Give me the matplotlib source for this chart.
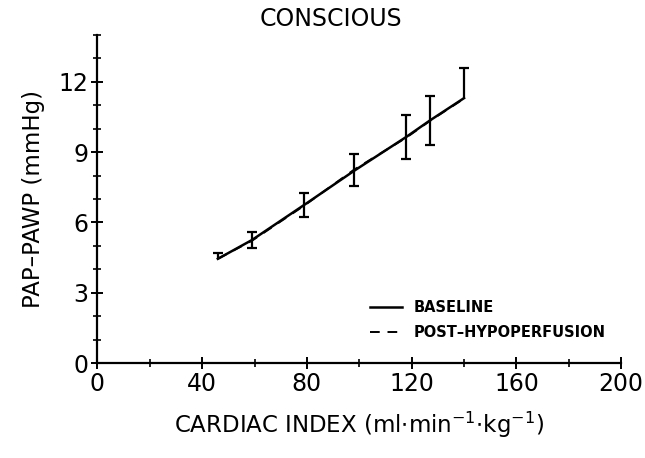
import matplotlib.pyplot as plt

# values
ci_base = [46, 59, 79, 98, 118, 127, 140]
pap_base = [4.45, 5.25, 6.75, 8.2, 9.65, 10.35, 11.3]
err_lo = [0.0, 0.35, 0.5, 0.65, 0.95, 1.05, 0.0]
err_hi = [0.25, 0.35, 0.5, 0.7, 0.95, 1.05, 1.3]

ci_post = [46, 59, 79, 98, 118, 127, 140]
pap_post = [4.45, 5.22, 6.72, 8.25, 9.62, 10.33, 11.28]

plt.rcParams['font.family'] = ['DejaVu Sans']

fig = plt.figure(figsize=(6.45, 4.58), dpi=100)
ax = fig.add_axes([0.151, 0.207, 0.812, 0.717])

ax.plot(ci_base, pap_base, color='black', lw=1.8, label='BASELINE')
ax.plot(ci_post, pap_post, color='black', lw=1.4, ls=(0, (5, 4)),
        label='POST\u2013HYPOPERFUSION')

# error bars: stems plus caps only where the bar extends
tops = [y + h for y, h in zip(pap_base, err_hi)]
bots = [y - l for y, l in zip(pap_base, err_lo)]
ax.vlines(ci_base, bots, tops, color='black', lw=1.6)
ax.plot(ci_base, tops, ls='none', marker='_', ms=7, mew=1.6, color='black')
bx = [x for x, l in zip(ci_base, err_lo) if l > 0]
by = [b for b, l in zip(bots, err_lo) if l > 0]
ax.plot(bx, by, ls='none', marker='_', ms=7, mew=1.6, color='black')

ax.set_xlim(0, 200)
ax.set_ylim(0, 14)
ax.set_xticks([0, 40, 80, 120, 160, 200])
ax.set_xticks(range(0, 201, 20), minor=True)
ax.set_yticks([0, 3, 6, 9, 12])
ax.set_yticks(range(0, 15), minor=True)

for s in ['top', 'right']:
    ax.spines[s].set_visible(False)
for s in ['left', 'bottom']:
    ax.spines[s].set_linewidth(1.6)

ax.tick_params(which='major', direction='inout', length=9, width=1.4,
               labelsize=17, pad=2)
ax.tick_params(which='minor', direction='inout', length=6, width=1.2)

ax.set_title('CONSCIOUS', fontsize=17, x=0.445, pad=6)
ax.set_xlabel('CARDIAC INDEX (ml$\\cdot$min$^{-1}$$\\cdot$kg$^{-1}$)',
              fontsize=16.5, labelpad=10)
ax.set_ylabel('PAP\u2013PAWP (mmHg)', fontsize=16.5, labelpad=10)

leg = ax.legend(loc='lower right', bbox_to_anchor=(0.995, 0.03), frameon=False,
                handlelength=2.2, handletextpad=0.8, labelspacing=0.7,
                prop={'weight': 'bold', 'size': 10.5})

fig.savefig('out.png', dpi=100)
